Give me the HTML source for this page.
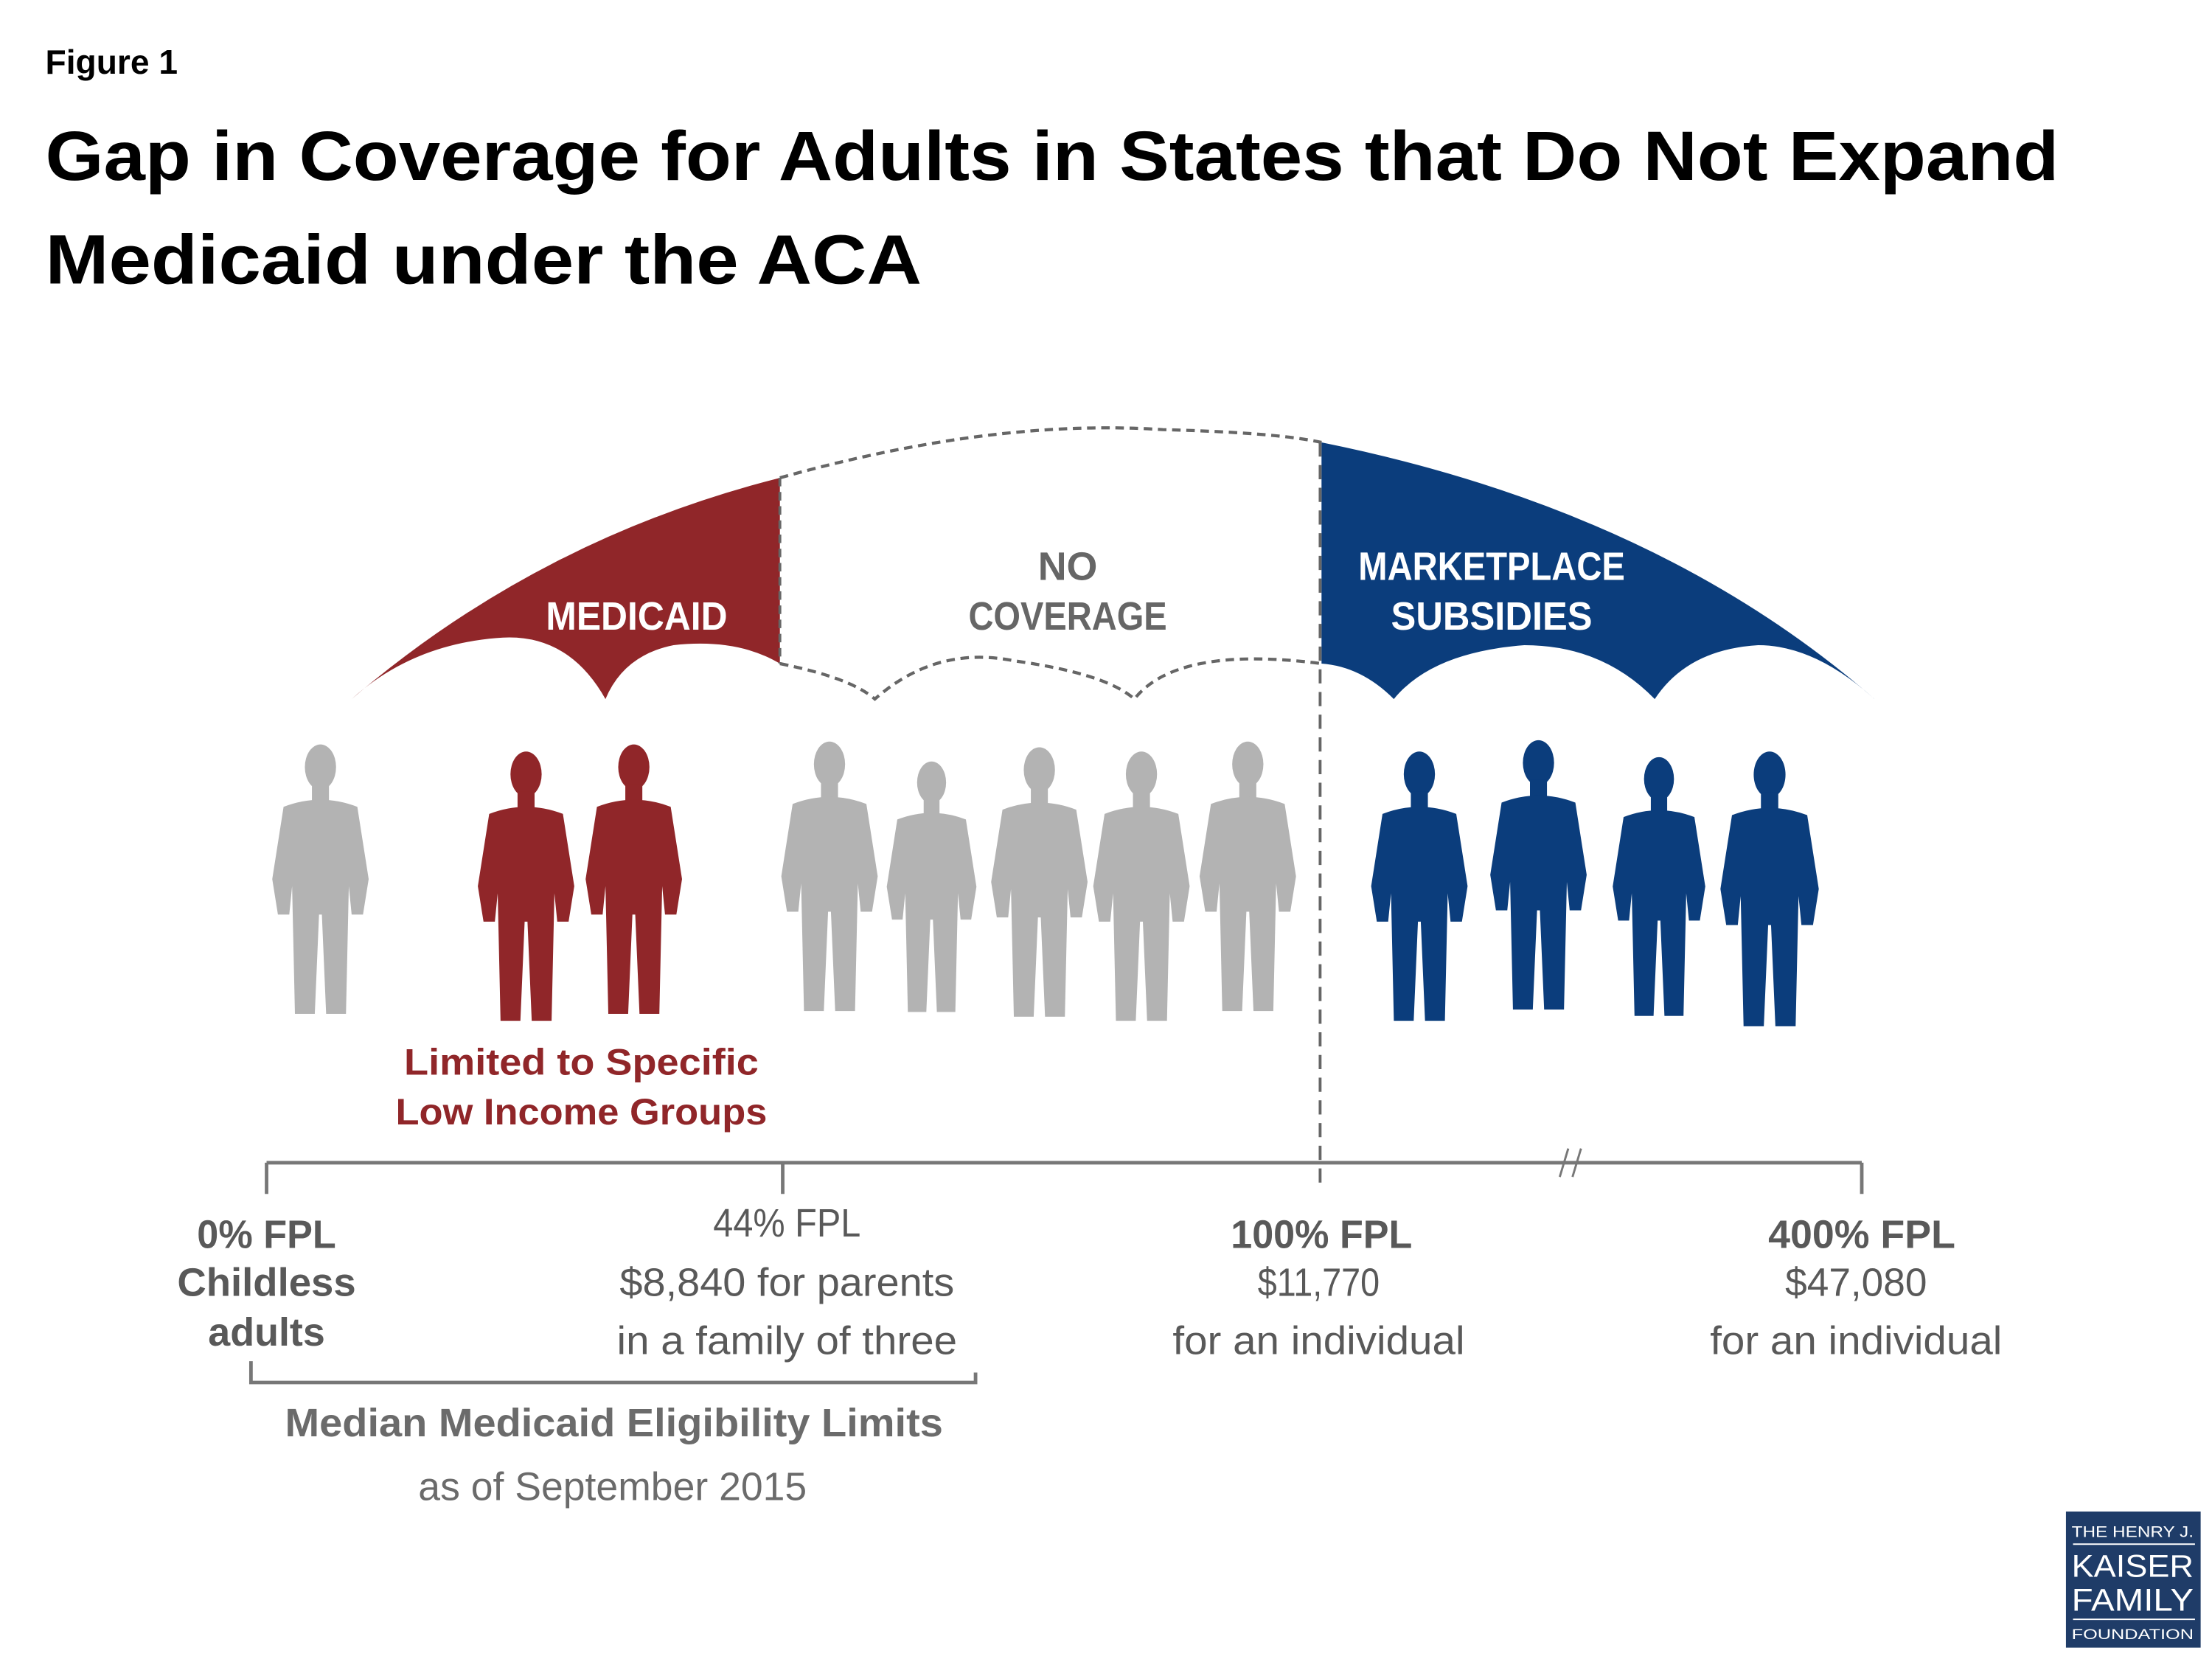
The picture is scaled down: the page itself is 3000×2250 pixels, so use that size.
<!DOCTYPE html>
<html><head><meta charset="utf-8"><style>
html,body{margin:0;padding:0;background:#fff;}
svg{display:block;}
text{font-family:"Liberation Sans",sans-serif;}
</style></head><body>
<svg width="3000" height="2250" viewBox="0 0 1560 1170" xmlns="http://www.w3.org/2000/svg">
<defs>
<g id="person">
<ellipse cx="0" cy="16" rx="11" ry="16"/>
<rect x="-6" y="28" width="12" height="14"/>
<path d="M-26,44 Q0,34 26,44 L34,95 L30,120 L22,120 L20,100 L18,190 L4,190 L1,120 L-1,120 L-4,190 L-18,190 L-20,100 L-22,120 L-30,120 L-34,95 Z"/>
</g>
</defs>
<text x="32" y="52" font-size="24" font-weight="bold" fill="#000">Figure 1</text>
<text x="32" y="127" font-size="49" font-weight="bold" fill="#000" textLength="1420" lengthAdjust="spacingAndGlyphs">Gap in Coverage for Adults in States that Do Not Expand</text>
<text x="32" y="200" font-size="49" font-weight="bold" fill="#000" textLength="618" lengthAdjust="spacingAndGlyphs">Medicaid under the ACA</text>

<path d="M248,493 Q380,380 550,337 L550,468 Q520,450 475,455 Q440,462 427,493 Q400,445 350,450 Q290,455 248,493 Z" fill="#902629"/>
<path d="M932,312 Q1170,360 1322,493 Q1280,455 1240,455 Q1190,458 1167,493 Q1130,455 1075,455 Q1010,460 983,493 Q960,470 932,468 Z" fill="#0b3d7c"/>
<path d="M550,337 Q700,295 820,303 Q900,305 932,312" fill="none" stroke="#666" stroke-width="2.2" stroke-dasharray="6,4"/>
<path d="M550,468 Q600,478 617,493 Q660,455 715,466 Q780,475 800,493 Q830,455 932,468" fill="none" stroke="#666" stroke-width="2.2" stroke-dasharray="6,4"/>
<line x1="550" y1="337" x2="550" y2="468" stroke="#666" stroke-width="2" stroke-dasharray="6,4"/>
<line x1="931" y1="312" x2="931" y2="840" stroke="#666" stroke-width="2" stroke-dasharray="10,6"/>

<text x="449" y="444" font-size="28" font-weight="bold" fill="#fff" text-anchor="middle" textLength="128" lengthAdjust="spacingAndGlyphs">MEDICAID</text>
<text x="753" y="409" font-size="28" font-weight="bold" fill="#666" text-anchor="middle">NO</text>
<text x="753" y="444" font-size="28" font-weight="bold" fill="#666" text-anchor="middle" textLength="140" lengthAdjust="spacingAndGlyphs">COVERAGE</text>
<text x="1052" y="409" font-size="28" font-weight="bold" fill="#fff" text-anchor="middle" textLength="188" lengthAdjust="spacingAndGlyphs">MARKETPLACE</text>
<text x="1052" y="444" font-size="28" font-weight="bold" fill="#fff" text-anchor="middle" textLength="142" lengthAdjust="spacingAndGlyphs">SUBSIDIES</text>

<g>
<use href="#person" transform="translate(226,525)" fill="#b3b3b3"/>
<use href="#person" transform="translate(371,530)" fill="#902629"/>
<use href="#person" transform="translate(447,525)" fill="#902629"/>
<use href="#person" transform="translate(585,523)" fill="#b3b3b3"/>
<use href="#person" transform="translate(657,537) scale(0.93)" fill="#b3b3b3"/>
<use href="#person" transform="translate(733,527)" fill="#b3b3b3"/>
<use href="#person" transform="translate(805,530)" fill="#b3b3b3"/>
<use href="#person" transform="translate(880,523)" fill="#b3b3b3"/>
<use href="#person" transform="translate(1001,530)" fill="#0b3d7c"/>
<use href="#person" transform="translate(1085,522)" fill="#0b3d7c"/>
<use href="#person" transform="translate(1170,534) scale(0.96)" fill="#0b3d7c"/>
<use href="#person" transform="translate(1248,530) scale(1.02)" fill="#0b3d7c"/>
</g>

<text x="410" y="758" font-size="26" font-weight="bold" fill="#902629" text-anchor="middle" textLength="250" lengthAdjust="spacingAndGlyphs">Limited to Specific</text>
<text x="410" y="793" font-size="26" font-weight="bold" fill="#902629" text-anchor="middle" textLength="262" lengthAdjust="spacingAndGlyphs">Low Income Groups</text>

<g stroke="#777" stroke-width="2.5" fill="none">
<line x1="188" y1="820" x2="1313" y2="820"/>
<line x1="188" y1="820" x2="188" y2="842"/>
<line x1="552" y1="820" x2="552" y2="842"/>
<line x1="1313" y1="820" x2="1313" y2="842"/>
<line x1="1100" y1="830" x2="1106" y2="810" stroke-width="1.5"/>
<line x1="1109" y1="830" x2="1115" y2="810" stroke-width="1.5"/>
<path d="M177,960 L177,975 L688,975 L688,968"/>
</g>

<g fill="#595959" font-size="28" font-weight="bold" text-anchor="middle">
<text x="188" y="880" textLength="98" lengthAdjust="spacingAndGlyphs">0% FPL</text>
<text x="188" y="914" textLength="126" lengthAdjust="spacingAndGlyphs">Childless</text>
<text x="188" y="949">adults</text>
<text x="555" y="872" font-weight="normal" textLength="104" lengthAdjust="spacingAndGlyphs">44% FPL</text>
<text x="555" y="914" font-weight="normal" textLength="236" lengthAdjust="spacingAndGlyphs">$8,840 for parents</text>
<text x="555" y="955" font-weight="normal" textLength="240" lengthAdjust="spacingAndGlyphs">in a family of three</text>
<text x="932" y="880" textLength="128" lengthAdjust="spacingAndGlyphs">100% FPL</text>
<text x="930" y="914" font-weight="normal" textLength="86" lengthAdjust="spacingAndGlyphs">$11,770</text>
<text x="930" y="955" font-weight="normal" textLength="206" lengthAdjust="spacingAndGlyphs">for an individual</text>
<text x="1313" y="880" textLength="132" lengthAdjust="spacingAndGlyphs">400% FPL</text>
<text x="1309" y="914" font-weight="normal" textLength="100" lengthAdjust="spacingAndGlyphs">$47,080</text>
<text x="1309" y="955" font-weight="normal" textLength="206" lengthAdjust="spacingAndGlyphs">for an individual</text>
<text x="433" y="1013" fill="#6b6b6b" textLength="464" lengthAdjust="spacingAndGlyphs">Median Medicaid Eligibility Limits</text>
<text x="432" y="1058" fill="#6b6b6b" font-weight="normal" textLength="274" lengthAdjust="spacingAndGlyphs">as of September 2015</text>
</g>

<g>
<rect x="1457" y="1066" width="95" height="96" fill="#1f3c68"/>
<g fill="#fff" font-family="Liberation Serif,serif" text-anchor="middle">
<text x="1504" y="1084" font-size="11" textLength="86" lengthAdjust="spacingAndGlyphs">THE HENRY J.</text>
<line x1="1462" y1="1089" x2="1548" y2="1089" stroke="#fff" stroke-width="1"/>
<text x="1504" y="1112" font-size="22" textLength="86" lengthAdjust="spacingAndGlyphs">KAISER</text>
<text x="1504" y="1136" font-size="22" textLength="86" lengthAdjust="spacingAndGlyphs">FAMILY</text>
<line x1="1462" y1="1142" x2="1548" y2="1142" stroke="#fff" stroke-width="1"/>
<text x="1504" y="1156" font-size="10" textLength="86" lengthAdjust="spacingAndGlyphs">FOUNDATION</text>
</g>
</g>
</svg>
</body></html>
